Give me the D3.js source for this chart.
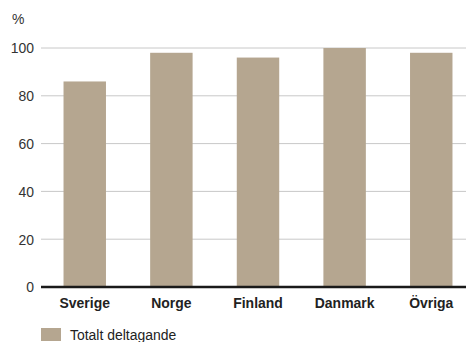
<!DOCTYPE html>
<html>
<head>
<meta charset="utf-8">
<script src="https://cdn.jsdelivr.net/npm/d3@7"></script>
<style>
  body { margin: 0; background: #fff; }
  svg { display: block; font-family: "Liberation Sans", Arial, sans-serif; }
</style>
</head>
<body>
<svg></svg>
<script>
const categories = ["Sverige", "Norge", "Finland", "Danmark", "Övriga"];
const values = [86, 98, 96, 100, 98];
const yTicks = [0, 20, 40, 60, 80, 100];
const unitLabel = "%";
const seriesName = "Totalt deltagande";

const width = 466;
const height = 342;
const margin = { top: 48, left: 41, right: -9, bottom: 55 };
const barColor = "#b5a690";
const squeeze = 0.9; // fake a condensed face

const svg = d3.select("svg").attr("width", width).attr("height", height);

const x = d3
  .scaleBand()
  .domain(categories)
  .range([margin.left, width - margin.right])
  .paddingInner(0.51)
  .paddingOuter(0.26);

const y = d3
  .scaleLinear()
  .domain([0, 100])
  .range([height - margin.bottom, margin.top]);

// grid lines
svg
  .append("g")
  .selectAll("line")
  .data(yTicks.filter(d => d > 0))
  .join("line")
  .attr("x1", margin.left)
  .attr("x2", width)
  .attr("y1", d => y(d))
  .attr("y2", d => y(d))
  .attr("stroke", "#c8c8c8")
  .attr("stroke-width", 1);

// y tick labels
svg
  .append("g")
  .selectAll("text")
  .data(yTicks)
  .join("text")
  .attr("transform", d => `translate(34,${y(d)}) scale(${squeeze},1)`)
  .attr("dy", "0.35em")
  .attr("text-anchor", "end")
  .attr("fill", "#333")
  .attr("font-size", 15.5)
  .text(d => d);

svg
  .append("text")
  .attr("transform", `translate(12,24) scale(${squeeze},1)`)
  .attr("fill", "#333")
  .attr("font-size", 15.5)
  .text(unitLabel);

// bars
svg
  .append("g")
  .selectAll("rect")
  .data(values)
  .join("rect")
  .attr("x", (d, i) => x(categories[i]))
  .attr("width", x.bandwidth())
  .attr("y", d => y(d))
  .attr("height", d => y(0) - y(d))
  .attr("fill", barColor);

// baseline
svg
  .append("line")
  .attr("x1", margin.left)
  .attr("x2", width)
  .attr("y1", y(0))
  .attr("y2", y(0))
  .attr("stroke", "#1a1a1a")
  .attr("stroke-width", 2.5);

// category labels
svg
  .append("g")
  .selectAll("text")
  .data(categories)
  .join("text")
  .attr(
    "transform",
    d => `translate(${x(d) + x.bandwidth() / 2},${y(0) + 21}) scale(${squeeze},1)`
  )
  .attr("text-anchor", "middle")
  .attr("fill", "#222")
  .attr("font-size", 15.5)
  .attr("font-weight", "bold")
  .text(d => d);

// legend
const legend = svg.append("g").attr("transform", "translate(41,328)");
legend
  .append("rect")
  .attr("width", 20)
  .attr("height", 13)
  .attr("fill", barColor);
legend
  .append("text")
  .attr("transform", `translate(29,12) scale(${squeeze},1)`)
  .attr("fill", "#222")
  .attr("font-size", 15.5)
  .text(seriesName);
</script>
</body>
</html>
